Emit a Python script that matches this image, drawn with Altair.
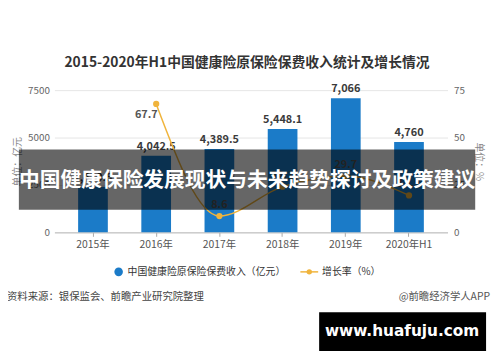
import altair as alt
import pandas as pd

# ---- data ----
years = ["2015年", "2016年", "2017年", "2018年", "2019年", "2020年H1"]
premium = [2410.5, 4042.5, 4389.5, 5448.1, 7066, 4760]
growth = [None, 67.7, 8.6, 24.1, 29.7, 19.5]

title_text = "2015-2020年H1中国健康险原保险保费收入统计及增长情况"
bar_name = "中国健康险原保险保费收入（亿元）"
line_name = "增长率（%）"
source_text = "资料来源：银保监会、前瞻产业研究院整理"
brand_text = "@前瞻经济学人APP"
banner_text = "中国健康保险发展现状与未来趋势探讨及政策建议"
site_text = "www.huafuju.com"

FONT = "Noto Sans CJK SC"
BLUE = "#1B7BC8"
GOLD = "#F0B43C"

# plot area origin on the page
OX, OY = 55, 89
W, H = 398, 144

df = pd.DataFrame({"year": years, "premium": premium, "growth": growth})
dummy = pd.DataFrame({"a": [0]})

xenc = alt.X(
    "year:N", sort=years, title=None,
    scale=alt.Scale(paddingInner=0.53, paddingOuter=0.375),
    axis=alt.Axis(labelAngle=0, labelFont=FONT, labelFontSize=10.5, labelColor="#555",
                  domainColor="#bbb", tickColor="#aaa", tickSize=4, labelPadding=3, grid=False),
)

ly = alt.Scale(domain=[0, 7500], nice=False)
ry = alt.Scale(domain=[0, 75], nice=False)

base = alt.Chart(df)

bars = base.mark_bar(color=BLUE).encode(
    x=xenc,
    y=alt.Y("premium:Q", scale=ly,
            axis=alt.Axis(values=[0, 2500, 5000, 7500], format="d", title="单位：亿元", domain=False,
                          ticks=False, labelFont=FONT, labelFontSize=10, labelColor="#666",
                          labelPadding=5, gridColor="#e6e6e6", titleFont=FONT, titleFontSize=10,
                          titleColor="#888", titleFontWeight="normal", titleAngle=-90, titleX=-37,
                          titleY=H / 2, titleAlign="center", titleBaseline="middle")),
)
bar_labels = base.mark_text(font=FONT, fontSize=11, color="#3a3a3a", fontWeight=600,
                            baseline="bottom", dy=-4).encode(
    x=xenc, y=alt.Y("premium:Q", scale=ly),
    text=alt.Text("premium:Q", format=",.1~f"),
)
left = alt.layer(bars, bar_labels)

gbase = base.transform_filter("isValid(datum.growth)")
ryenc = alt.Y("growth:Q", scale=ry,
              axis=alt.Axis(values=[0, 25, 50, 75], orient="right", title="单位：%", domain=False,
                            ticks=False, grid=False, labelFont=FONT, labelFontSize=10,
                            labelColor="#666", labelPadding=6, titleFont=FONT, titleFontSize=10,
                            titleColor="#888", titleFontWeight="normal", titleAngle=90,
                            titleX=31, titleY=H / 2, titleAlign="center", titleBaseline="middle"))
line = gbase.mark_line(color=GOLD, strokeWidth=1.5, interpolate="monotone").encode(x=xenc, y=ryenc)
points = gbase.mark_point(filled=True, color=GOLD, size=40, opacity=1).encode(
    x=xenc, y=alt.Y("growth:Q", scale=ry))
glab_low = gbase.transform_filter("datum.growth < 60").mark_text(
    font=FONT, fontSize=11, color="#555", fontWeight=600, baseline="bottom", dy=-6).encode(
    x=xenc, y=alt.Y("growth:Q", scale=ry), text=alt.Text("growth:Q", format=".1f"))
glab_high = gbase.transform_filter("datum.growth >= 60").mark_text(
    font=FONT, fontSize=11, color="#555", fontWeight=600, baseline="top", dy=5, dx=-10).encode(
    x=xenc, y=alt.Y("growth:Q", scale=ry), text=alt.Text("growth:Q", format=".1f"))
right = alt.layer(line, points, glab_low, glab_high)


def txt(text, x, y, size, color, weight="normal", align="left", font=FONT):
    return alt.Chart(dummy).mark_text(text=text, fontSize=size, color=color, fontWeight=weight,
                                      align=align, baseline="middle", font=font).encode(
        x=alt.value(x - OX), y=alt.value(y - OY))


def box(x1, y1, x2, y2, color, opacity):
    return alt.Chart(dummy).mark_rect(color=color, opacity=opacity).encode(
        x=alt.value(x1 - OX), x2=alt.value(x2 - OX), y=alt.value(y1 - OY), y2=alt.value(y2 - OY))


title = txt(title_text, 250, 62, 14, "#333", weight="bold", align="center")

leg_dot = alt.Chart(dummy).mark_point(filled=True, color=BLUE, size=75, opacity=1).encode(
    x=alt.value(120 - OX), y=alt.value(273 - OY))
leg_t1 = txt(bar_name, 129, 273, 10, "#333")
leg_line = alt.Chart(dummy).mark_rule(color=GOLD, strokeWidth=1.5).encode(
    x=alt.value(304 - OX), x2=alt.value(322 - OX), y=alt.value(273 - OY))
leg_pt = alt.Chart(dummy).mark_point(filled=True, color=GOLD, size=30, opacity=1).encode(
    x=alt.value(313 - OX), y=alt.value(273 - OY))
leg_t2 = txt(line_name, 326, 273, 10, "#333")

src = txt(source_text, 7, 298, 10.5, "#444")
brand = txt(brand_text, 496, 298, 10.5, "#555", align="right")

banner = box(19, 149, 481, 210, "#000000", 0.6)
banner_t = txt(banner_text, 250, 181, 21, "#ffffff", weight="bold", align="center")

site_box = box(323, 314, 492, 353, "#000000", 1)
site_t = txt(site_text, 407, 333, 15.5, "#ffffff", weight="bold", align="center", font="DejaVu Sans")

chart = alt.layer(
    left, right, title, leg_dot, leg_t1, leg_line, leg_pt, leg_t2, src, brand,
    banner, banner_t, site_box, site_t,
).resolve_scale(y="independent").properties(
    width=W, height=H,
    padding={"left": OX - 8, "top": OY - 8, "right": 45, "bottom": 121},
    autosize=alt.AutoSizeParams(type="none"),
    background="white",
).configure_view(stroke=None)

chart.save("out.html", embed_options={"renderer": "svg", "actions": False})
